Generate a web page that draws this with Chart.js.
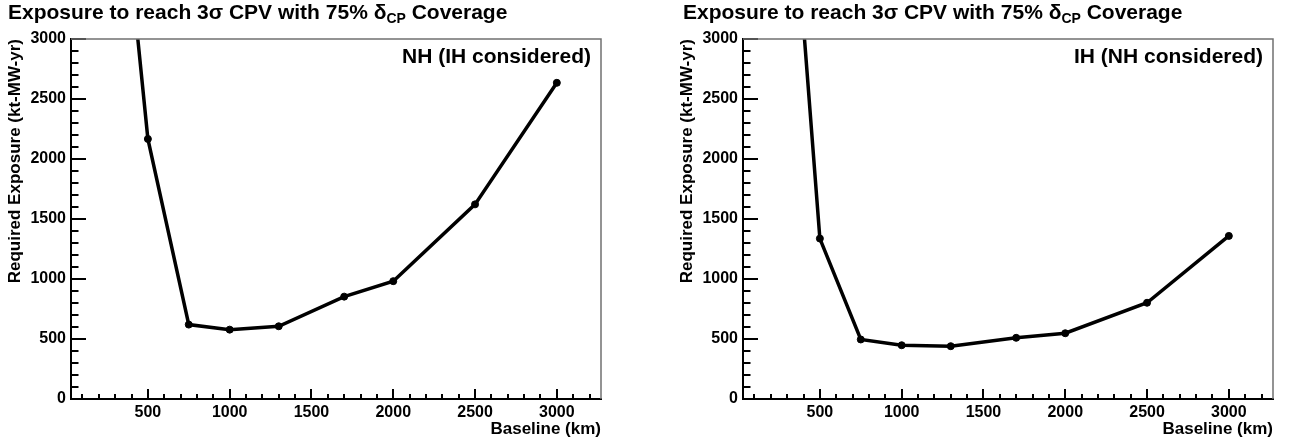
<!DOCTYPE html>
<html>
<head>
<meta charset="utf-8">
<script src="https://cdn.jsdelivr.net/npm/chart.js@4.4.1/dist/chart.umd.min.js"></script>
<style>
  html, body { margin: 0; padding: 0; background: #fff; }
  body { width: 1289px; height: 447px; position: relative; overflow: hidden; }
  .wrap { position: absolute; top: 0; width: 618px; height: 447px; }
  #w1 { left: 0; }
  #w2 { left: 672px; }
</style>
</head>
<body>
<div class="wrap" id="w1"><canvas id="c1" width="618" height="447"></canvas></div>
<div class="wrap" id="w2"><canvas id="c2" width="618" height="447"></canvas></div>
<script>
// ---- data ----
const baselines   = [300, 500, 750, 1000, 1300, 1700, 2000, 2500, 3000];   // km
const nhExposure  = [4875, 2167, 620, 578, 606, 853, 982, 1622, 2635];      // kt-MW-yr
const ihExposure  = [4875, 1337, 496, 448, 440, 510, 548, 802, 1359];       // kt-MW-yr

const xTicks      = [500, 1000, 1500, 2000, 2500, 3000];
const xTickLabels = ['500', '1000', '1500', '2000', '2500', '3000'];
const yTicks      = [0, 500, 1000, 1500, 2000, 2500, 3000];
const yTickLabels = ['0', '500', '1000', '1500', '2000', '2500', '3000'];

const titleMain = 'Exposure to reach 3\u03C3 CPV with 75% \u03B4';
const titleSub  = 'CP';
const titleEnd  = ' Coverage';
const xTitle    = 'Baseline (km)';
const yTitle    = 'Required Exposure (kt-MW-yr)';
const panelLabels = ['NH (IH considered)', 'IH (NH considered)'];

const FONT = '"Liberation Sans", Arial, Helvetica, sans-serif';

// inner ROOT-style ticks, frame, panel label and title
const rootStyle = {
  id: 'rootStyle',
  afterDraw(chart, args, opts) {
    const { ctx, chartArea: a, scales: { x, y } } = chart;
    ctx.save();
    ctx.strokeStyle = '#000';
    ctx.lineWidth = 2;
    ctx.beginPath();
    for (let v = y.min; v <= y.max; v += 100) {
      const py = Math.round(y.getPixelForValue(v));
      const len = (v % 500 === 0) ? 15 : 7.5;
      ctx.moveTo(a.left, py);
      ctx.lineTo(a.left + len, py);
    }
    for (let v = 100; v <= x.max; v += 100) {
      const px = Math.round(x.getPixelForValue(v));
      const len = (v % 500 === 0) ? 10 : 5;
      ctx.moveTo(px, a.bottom);
      ctx.lineTo(px, a.bottom - len);
    }
    ctx.stroke();

    ctx.strokeStyle = '#707070';
    ctx.lineWidth = 1.5;
    ctx.beginPath();
    ctx.moveTo(a.left, a.top);
    ctx.lineTo(a.right, a.top);
    ctx.lineTo(a.right, a.bottom);
    ctx.stroke();

    ctx.fillStyle = '#000';
    ctx.textBaseline = 'alphabetic';
    ctx.textAlign = 'right';
    ctx.font = 'bold 21px ' + FONT;
    ctx.fillText(opts.label, a.right - 10, a.top + 24);

    ctx.textAlign = 'left';
    let tx = opts.titleX;
    const ty = 19;
    ctx.font = 'bold 21px ' + FONT;
    ctx.fillText(titleMain, tx, ty);
    tx += ctx.measureText(titleMain).width;
    ctx.font = 'bold 14px ' + FONT;
    ctx.fillText(titleSub, tx, ty + 4);
    tx += ctx.measureText(titleSub).width;
    ctx.font = 'bold 21px ' + FONT;
    ctx.fillText(titleEnd, tx, ty);
    ctx.restore();
  }
};

function makeChart(id, values, label, titleX) {
  return new Chart(document.getElementById(id), {
    type: 'line',
    data: {
      datasets: [{
        data: baselines.map((b, i) => ({ x: b, y: values[i] })),
        borderColor: '#000',
        backgroundColor: '#000',
        borderWidth: 3.5,
        pointRadius: 3.5,
        pointBorderWidth: 1,
        pointBackgroundColor: '#000',
        pointBorderColor: '#000',
        tension: 0,
        fill: false
      }]
    },
    options: {
      responsive: false,
      animation: false,
      events: [],
      layout: { padding: { left: 0, right: 17, top: 39, bottom: 0 } },
      plugins: {
        legend: { display: false },
        title: { display: false },
        tooltip: { enabled: false },
        rootStyle: { label: label, titleX: titleX }
      },
      scales: {
        x: {
          type: 'linear',
          position: 'bottom',
          min: 30,
          max: 3270,
          afterBuildTicks: s => { s.ticks = xTicks.map(v => ({ value: v })); },
          afterFit: s => { s.height = 48; },
          ticks: {
            autoSkip: false, maxRotation: 0, padding: 4, color: '#000',
            font: { family: FONT, weight: 'bold', size: 16 },
            callback: (v, i) => xTickLabels[i]
          },
          grid: { display: false, drawTicks: false },
          border: { display: true, color: '#000', width: 2 },
          title: {
            display: true, text: xTitle, align: 'end', color: '#000',
            font: { family: FONT, weight: 'bold', size: 17 },
            padding: { top: 0, bottom: 7 }
          }
        },
        y: {
          type: 'linear',
          position: 'left',
          min: 0,
          max: 3000,
          afterBuildTicks: s => { s.ticks = yTicks.map(v => ({ value: v })); },
          afterFit: s => { s.width = 71; },
          ticks: {
            autoSkip: false, padding: 5, color: '#000',
            font: { family: FONT, weight: 'bold', size: 16 },
            callback: (v, i) => yTickLabels[i]
          },
          grid: { display: false, drawTicks: false },
          border: { display: true, color: '#000', width: 2 },
          title: {
            display: true, text: yTitle, align: 'end', color: '#000',
            font: { family: FONT, weight: 'bold', size: 17 },
            padding: { top: 5, bottom: 0 }
          }
        }
      }
    },
    plugins: [rootStyle]
  });
}

makeChart('c1', nhExposure, panelLabels[0], 8);
makeChart('c2', ihExposure, panelLabels[1], 11);
</script>
</body>
</html>
